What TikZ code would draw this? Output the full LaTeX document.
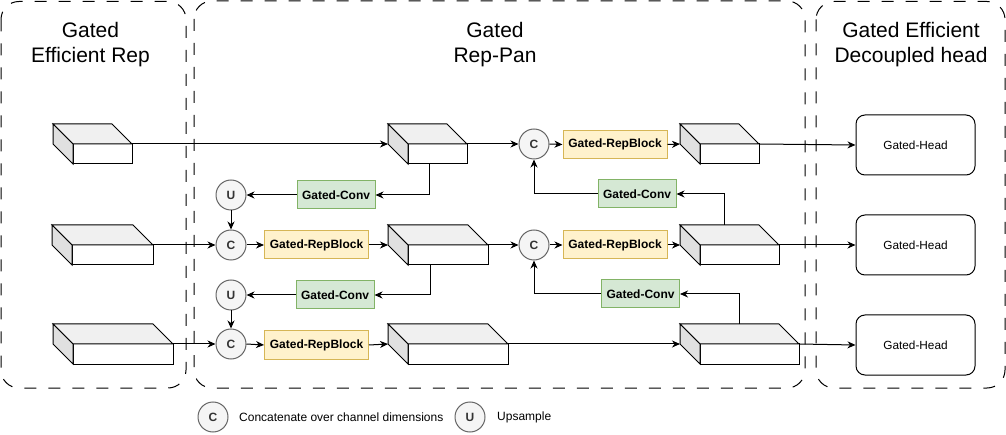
\documentclass[tikz,border=0pt]{standalone}
\usepackage{fontspec}
\setmainfont{Liberation Sans}
\usetikzlibrary{arrows.meta,calc}
\definecolor{gcfill}{HTML}{D5E8D4}
\definecolor{gcline}{HTML}{82B366}
\definecolor{rbfill}{HTML}{FFF2CC}
\definecolor{rbline}{HTML}{D6B656}
\definecolor{cfill}{HTML}{F5F5F5}
\definecolor{cline}{HTML}{666666}
\definecolor{ctext}{HTML}{333333}
\definecolor{topface}{HTML}{F0F0F0}
\definecolor{sideface}{HTML}{E0E0E0}
\tikzset{
  front/.style={draw=black, fill=white, line width=1pt, inner sep=0pt, outer sep=0pt},
  face/.style={draw=black, line width=1pt, line join=miter},
  grp/.style={draw=black, line width=1pt, dash pattern=on 12pt off 12pt, rounded corners=18pt},
  title/.style={font=\fontsize{21}{25}\selectfont, align=center, text=black},
  circ/.style={circle, draw=cline, fill=cfill, line width=1pt, minimum size=30pt, inner sep=0pt, font=\fontsize{12}{14}\selectfont\bfseries, text=ctext},
  gconv/.style={draw=gcline, fill=gcfill, line width=1pt, minimum width=78pt, minimum height=28pt, inner sep=0pt, font=\fontsize{12}{14}\selectfont\bfseries},
  rblock/.style={draw=rbline, fill=rbfill, line width=1pt, minimum width=104pt, minimum height=28pt, inner sep=0pt, font=\fontsize{12}{14}\selectfont\bfseries},
  ghead/.style={draw=black, fill=white, line width=1pt, rounded corners=9pt, minimum width=119pt, minimum height=60pt, inner sep=0pt, font=\fontsize{11.8}{14}\selectfont},
  legtext/.style={anchor=west, inner sep=0pt, font=\fontsize{12}{14}\selectfont},
  arr/.style={-{Stealth[length=8pt,width=7pt,inset=2.5pt]}, line width=1pt},
}
% name, x0, y0 (back top-left), x1, y1 (front bottom-right)
\newcommand{\mycube}[5]{%
  \node[front, minimum width={#4-#2-20}, minimum height={#5-#3-20}] (#1) at ({(#2+20+#4)/2},{(#3+20+#5)/2}) {};
  \draw[face, fill=topface] (#1.north west) -- ++(-20,-20) -- ($(#1.north east)+(-20,-20)$) -- (#1.north east) -- cycle;
  \draw[face, fill=sideface] (#1.north west) -- ++(-20,-20) -- ($(#1.south west)+(-20,-20)$) -- (#1.south west) -- cycle;
  \coordinate (#1in) at ($(#1.north west)+(-20,0)$);
}
\begin{document}
\begin{tikzpicture}[x=1pt,y=-1pt]
\useasboundingbox (0,0) rectangle (1006,435);
% groups
\draw[grp] (1,1.5) rectangle (186,388);
\draw[grp] (194,1) rectangle (805,388);
\draw[grp] (816,1.5) rectangle (1005,388);
\node[title] (t1) at (90.5,45) {Gated\\Efficient Rep};
\node[title] (t2) at (495,45) {Gated\\Rep-Pan};
\node[title] (t3) at (911,45) {Gated Efficient\\Decoupled head};
% cubes
\mycube{c1}{53}{124}{132}{164}
\mycube{c2}{52}{225}{153}{265}
\mycube{c3}{53}{324}{173}{364}
\mycube{c4}{388}{124}{467}{164}
\mycube{c5}{388}{225}{488}{265}
\mycube{c6}{388}{324}{508}{364}
\mycube{c7}{680}{124}{759}{164}
\mycube{c8}{680}{225}{779}{265}
\mycube{c9}{680}{324}{799}{364}
% circles
\node[circ] (C1) at (534,144) {C};
\node[circ] (C2) at (534,245) {C};
\node[circ] (C3) at (231,245) {C};
\node[circ] (C4) at (231,344) {C};
\node[circ] (U1) at (231,195) {U};
\node[circ] (U2) at (231,295) {U};
% blocks
\node[rblock] (rb1) at (615,144.5) {Gated-RepBlock};
\node[rblock] (rb2) at (316.5,245) {Gated-RepBlock};
\node[rblock] (rb3) at (615,245) {Gated-RepBlock};
\node[rblock] (rb4) at (316.5,345) {Gated-RepBlock};
\node[gconv] (gc1) at (336,195) {Gated-Conv};
\node[gconv] (gc2) at (335,295) {Gated-Conv};
\node[gconv] (gc3) at (637,194) {Gated-Conv};
\node[gconv] (gc4) at (640.5,294) {Gated-Conv};
% heads
\node[ghead] (h1) at (915.5,145) {Gated-Head};
\node[ghead] (h2) at (915.5,245) {Gated-Head};
\node[ghead] (h3) at (915.5,345) {Gated-Head};
% top row
\draw[arr] (c1.north east) -- (c4in);
\draw[arr] (c4.north east) -- (C1.west);
\draw[arr] (C1.east) -- (rb1.west);
\draw[arr] (rb1.east) -- (c7in);
\draw[arr] (c7.north east) -- (h1.west);
% middle row
\draw[arr] (c2.north east) -- (C3.west);
\draw[arr] (C3.east) -- (rb2.west);
\draw[arr] (rb2.east) -- (c5in);
\draw[arr] (c5.north east) -- (C2.west);
\draw[arr] (C2.east) -- (rb3.west);
\draw[arr] (rb3.east) -- (c8in);
\draw[arr] (c8.north east) -- (h2.west);
% bottom row
\draw[arr] (c3.north east) -- (C4.west);
\draw[arr] (C4.east) -- (rb4.west);
\draw[arr] (rb4.east) -- (c6in);
\draw[arr] (c6.north east) -- (c9in);
\draw[arr] (c9.north east) -- (h3.west);
% top-down path
\draw[arr] ([xshift=21pt]c4.south west) |- (gc1.east);
\draw[arr] (gc1.west) -- (U1.east);
\draw[arr] (U1.south) -- (C3.north);
\draw[arr] ([xshift=22pt]c5.south west) |- (gc2.east);
\draw[arr] (gc2.west) -- (U2.east);
\draw[arr] (U2.south) -- (C4.north);
% bottom-up path
\draw[arr] ([xshift=24pt,yshift=20pt]c8.north west) |- (gc3.east);
\draw[arr] (gc3.west) -| (C1.south);
\draw[arr] ([xshift=39pt,yshift=20pt]c9.north west) |- (gc4.east);
\draw[arr] (gc4.west) -| (C2.south);
% legend
\node[circ] (lC) at (213,417) {C};
\node[legtext] (lCt) at (239,417) {Concatenate over channel dimensions};
\node[circ] (lU) at (470,417) {U};
\node[legtext] (lUt) at (497,417) {Upsample};
\end{tikzpicture}
\end{document}
